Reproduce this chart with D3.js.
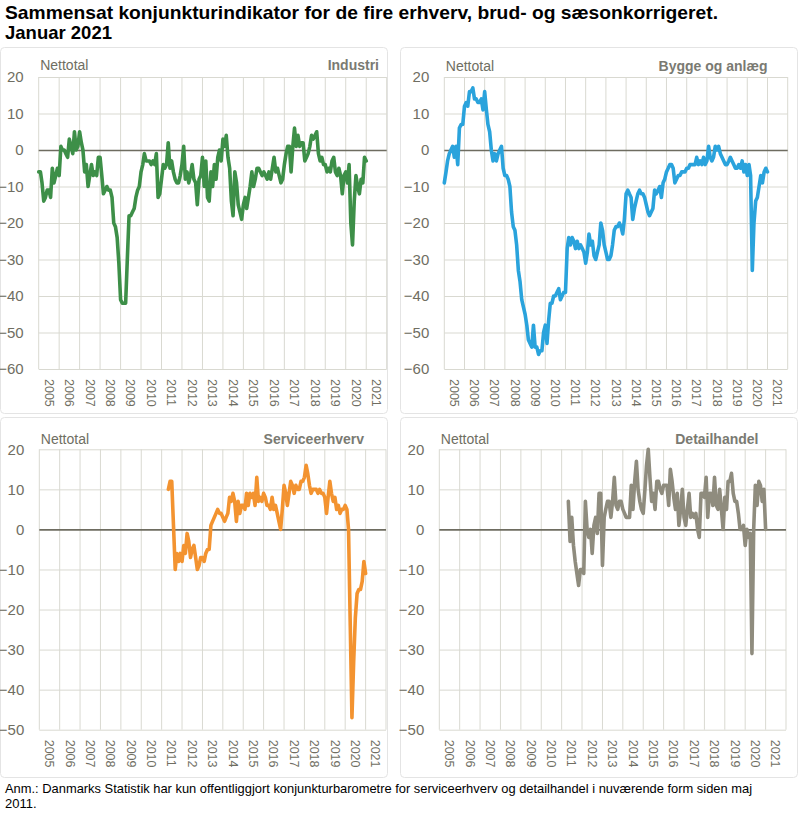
<!DOCTYPE html>
<html><head><meta charset="utf-8">
<script src="https://cdn.jsdelivr.net/npm/d3@7"></script>
<style>
body{margin:0;background:#fff}
svg{display:block}
text{font-family:"Liberation Sans", Arial, sans-serif}
</style>
</head><body>
<svg id="chart" width="800" height="815"></svg>
<script>
// ---------------- DATA ----------------
const yearLabels = ["2005","2006","2007","2008","2009","2010","2011","2012","2013","2014","2015","2016","2017","2018","2019","2020","2021"];
const yTicksTop = [20, 10, 0, -10, -20, -30, -40, -50, -60];
const yTicksBottom = [20, 10, 0, -10, -20, -30, -40, -50];

// Industri, monthly Jan 2005 - Jan 2021
const industri = [
  -6,-6,-9,-14,-13,-11,-11,-13,-5,-9,-7,-5,
  -7,1,0,0,-1,-2,3,1,-1,5,0,1,
  5,2,0,-6,-4,-10,-7,-4,-7,-6,-7,-2,
  -2,-7,-12,-11,-10,-11,-11,-13,-20,-21,-24,-31,
  -41,-42,-42,-42,-30,-18,-18,-17,-16,-13,-11,-10,
  -6,-4,-1,-3,-3,-3,-4,-3,-4,-1,-13,-12,
  -8,-4,-5,-4,2,-5,-3,-6,-8,-9,-9,-7,
  -4,1,-8,-6,-9,-7,-4,-8,-9,-15,-8,-7,
  -2,-10,-3,-13,-14,-6,-10,-4,-8,-2,0,-3,
  3,1,4,-2,-5,-14,-18,-6,-9,-15,-17,-19,
  -15,-13,-16,-13,-10,-6,-10,-8,-5,-5,-6,-7,
  -6,-7,-8,-6,-8,-5,-2,-6,-5,-7,-9,-8,
  -4,-1,1,1,-6,1,6,1,4,1,2,2,
  -3,-2,-1,1,4,3,4,5,-1,-3,-2,-4,
  -4,-6,-5,-6,-3,-2,-6,-7,-5,-7,-12,-7,
  -6,-9,-4,-20,-26,-14,-7,-10,-12,-8,-9,-2,
  -3
];
// Bygge og anlæg, monthly Jan 2005 - Jan 2021
const bygge = [
  -9,-6,-3,-1,0,1,-2,1,-4,6,7,7,
  12,13,12,16,16,17,14,14,13,13,14,11,
  16,11,7,5,0,-3,-1,-3,-1,0,1,-5,
  -7,-7,-8,-10,-17,-21,-22,-26,-33,-36,-41,-43,
  -45,-48,-52,-53,-54,-48,-54,-54,-56,-55,-55,-50,
  -48,-53,-47,-42,-42,-40,-40,-39,-38,-41,-40,-39,
  -39,-27,-24,-26,-24,-25,-27,-25,-27,-26,-27,-28,
  -31,-28,-23,-26,-25,-29,-30,-28,-26,-20,-22,-26,
  -28,-30,-30,-29,-26,-22,-21,-21,-20,-21,-23,-19,
  -12,-11,-12,-13,-19,-16,-14,-12,-11,-12,-12,-13,
  -15,-17,-18,-17,-16,-11,-12,-11,-10,-13,-9,-8,
  -6,-5,-4,-4,-5,-9,-8,-7,-7,-6,-6,-6,
  -5,-5,-4,-4,-4,-4,-2,-4,-3,-4,-2,-4,
  -3,1,-2,-3,-2,1,0,1,-1,-2,-3,-4,
  -4,-3,-2,-3,-4,-5,-5,-4,-5,-3,-6,-4,
  -7,-4,-7,-33,-20,-14,-13,-10,-7,-9,-6,-5,
  -6
];
// Serviceerhverv, monthly May 2011 - Jan 2021
const service = [
  10,12,12,1,-10,-6,-8,-6,
  -8,-4,-6,-1,-3,-7,-5,-4,-7,-10,-9,-7,
  -7,-8,-6,-5,-5,1,2,3,4,5,4,4,
  3,2,3,4,8,7,9,7,2,7,4,6,
  6,5,9,6,9,8,9,6,13,7,8,7,
  9,8,6,6,5,8,5,6,4,2,0,5,
  11,9,6,9,12,11,9,11,10,10,12,12,
  13,16,14,11,9,10,10,10,9,10,9,9,
  8,4,8,12,9,7,8,5,6,4,5,5,
  6,5,0,-24,-47,-33,-22,-16,-15,-15,-13,-8,
  -11
];
// Detailhandel, monthly May 2011 - Jan 2021
const detail = [
  7,-3,3,-4,-8,-11,-14,-10,
  -10,-11,7,0,-2,0,-6,1,3,-1,9,9,
  -9,3,5,7,7,3,7,13,6,5,7,7,
  5,4,3,3,3,11,5,12,17,10,7,5,
  4,10,16,20,13,7,9,5,12,12,10,9,
  11,11,11,6,15,12,8,5,9,1,5,10,
  3,1,5,9,3,4,3,4,0,-2,9,9,
  8,13,3,9,9,6,13,6,5,10,5,0,
  8,5,12,12,14,9,7,7,4,0,0,1,
  -4,0,-2,-1,-31,0,11,6,12,11,7,10,
  0
];

const titleLines = ["Sammensat konjunkturindikator for de fire erhverv, brud- og sæsonkorrigeret.", "Januar 2021"];
const noteLines = ["Anm.: Danmarks Statistik har kun offentliggjort konjunkturbarometre for serviceerhverv og detailhandel i nuværende form siden maj", "2011."];

// ---------------- DRAW ----------------
const svg = d3.select("#chart");
const TICK_COL = "#6f6e62", GRID = "#d9d9d1", ZERO = "#6e6c60";

function monthly(y0, m0, vals){ return vals.map((v,i)=>({date:new Date(y0, m0+i, 1), v})); }

const panels = [
  {name:"Industri", data:monthly(2005,0,industri), color:"#3d8f48",
   frame:[0.5,47.5,387,366], x0:38.7, x1:386.7, yT:77, yB:369, dom:[-60,20], ticks:yTicksTop, labY:69.5, nameRight:379},
  {name:"Bygge og anlæg", data:monthly(2005,0,bygge), color:"#2aa3dc",
   frame:[400.5,47.5,397,366], x0:444.3, x1:787.7, yT:77, yB:369, dom:[-60,20], ticks:yTicksTop, labY:71, nameRight:767.5},
  {name:"Serviceerhverv", data:monthly(2011,4,service), color:"#f39330",
   frame:[0.5,417.5,387,360], x0:39.3, x1:386, yT:449.3, yB:729.7, dom:[-50,20], ticks:yTicksBottom, labY:443.5, nameRight:364},
  {name:"Detailhandel", data:monthly(2011,4,detail), color:"#8f8c7e",
   frame:[400.5,417.5,397,360], x0:439.3, x1:786, yT:449.3, yB:729.7, dom:[-50,20], ticks:yTicksBottom, labY:443.5, nameRight:758.5}
];

panels.forEach(p => {
  svg.append("rect").attr("x",p.frame[0]).attr("y",p.frame[1]).attr("width",p.frame[2]).attr("height",p.frame[3])
    .attr("rx",4).attr("fill","none").attr("stroke","#e4e4e4").attr("stroke-width",1);

  const x = d3.scaleTime().domain([new Date(2005,0,1), new Date(2022,0,1)]).range([p.x0, p.x1]);
  const band = d3.scaleBand().domain(yearLabels).range([p.x0, p.x1]);
  const y = d3.scaleLinear().domain(p.dom).range([p.yB, p.yT]);
  const g = svg.append("g");

  // vertical grid at year boundaries
  g.append("g").selectAll("line").data(d3.range(2005, 2023)).join("line")
    .attr("x1", d=>x(new Date(d,0,1))).attr("x2", d=>x(new Date(d,0,1)))
    .attr("y1", p.yT).attr("y2", p.yB).attr("stroke", GRID).attr("stroke-width",1);

  // y axis with horizontal grid
  const ya = g.append("g").attr("transform",`translate(${p.x0},0)`)
    .call(d3.axisLeft(y).tickValues(p.ticks).tickSize(-(p.x1-p.x0)).tickPadding(15).tickFormat(d3.format("d")));
  ya.select(".domain").remove();
  ya.selectAll(".tick line").attr("stroke", d => d===0 ? ZERO : GRID).attr("stroke-width", d => d===0 ? 1.6 : 1);
  ya.selectAll(".tick text").attr("fill", TICK_COL).attr("font-size", 15).attr("font-family", '"Liberation Sans", Arial, sans-serif');
  ya.selectAll(".tick").filter(d=>d===0).raise();

  // x axis labels (rotated)
  const xa = g.append("g").attr("transform",`translate(0,${p.yB})`)
    .call(d3.axisBottom(band).tickSize(0).tickPadding(0));
  xa.select(".domain").remove();
  xa.selectAll(".tick text").attr("fill", TICK_COL).attr("font-size", 12.5)
    .attr("font-family", '"Liberation Sans", Arial, sans-serif')
    .attr("transform","rotate(90)").attr("text-anchor","start")
    .attr("x", 10).attr("y", 0).attr("dy","0.35em");

  // line
  g.append("path").datum(p.data)
    .attr("fill","none").attr("stroke", p.color).attr("stroke-width", 3.6)
    .attr("stroke-linejoin","round").attr("stroke-linecap","round")
    .attr("d", d3.line().x(d=>x(d.date)).y(d=>y(d.v)));

  // labels
  g.append("text").attr("x", p.x0 + 1.5).attr("y", p.labY).attr("font-size",14).attr("fill", TICK_COL).text("Nettotal");
  g.append("text").attr("x", p.nameRight).attr("y", p.labY).attr("text-anchor","end").attr("font-size",14)
    .attr("font-weight","bold").attr("fill","#7a7a72").text(p.name);
});

// title
svg.append("g").selectAll("text").data(titleLines).join("text")
  .attr("x",5).attr("y",(d,i)=>19 + i*20).attr("font-size",18.5).attr("font-weight","bold").attr("fill","#000")
  .attr("textLength",(d,i)=> i===0 ? 713 : null).attr("lengthAdjust","spacingAndGlyphs").text(d=>d);
// note
svg.append("g").selectAll("text").data(noteLines).join("text")
  .attr("x",5).attr("y",(d,i)=>793 + i*15).attr("font-size",13).attr("fill","#000")
  .attr("textLength",(d,i)=> i===0 ? 747 : null).attr("lengthAdjust","spacingAndGlyphs").text(d=>d);
</script>
</body></html>
